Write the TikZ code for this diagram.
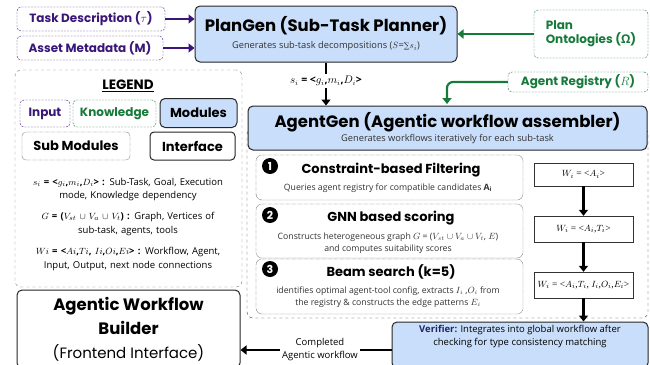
\documentclass[tikz,border=0pt]{standalone}
\usepackage{fontspec}
\setmainfont{Open Sans}
\newfontfamily\headfont{Poppins}
\newfontfamily\wffont{Liberation Serif}
\newfontfamily\greekfont{Open Sans}
\newfontfamily\symfont{DejaVu Serif}
\usetikzlibrary{arrows.meta,positioning,calc}
\definecolor{inpurple}{RGB}{58,22,120}
\definecolor{kngreen}{RGB}{22,122,58}
\definecolor{modblue}{RGB}{201,222,250}
\definecolor{verinavy}{RGB}{28,40,100}
\definecolor{legendgray}{RGB}{120,120,120}
\definecolor{subgray}{RGB}{50,50,50}

\begin{document}
\begin{tikzpicture}[x=1pt,y=-1pt,
  every node/.style={inner sep=2pt},
  inbox/.style={draw=inpurple,dash pattern=on 2pt off 1.2pt,rounded corners=4pt,text=inpurple,
    font=\headfont\bfseries\fontsize{12}{14}\selectfont},
  knbox/.style={draw=kngreen,dash pattern=on 2pt off 1.2pt,rounded corners=4pt,text=kngreen,
    font=\headfont\bfseries\fontsize{12}{14}\selectfont},
  modbox/.style={draw=black!85,fill=modblue,rounded corners=5pt,line width=1pt,align=center},
  subbox/.style={draw=black!70,dash pattern=on 0.6pt off 0.6pt,rounded corners=6pt},
  ifbox/.style={draw=black!85,fill=white,rounded corners=5pt,line width=1pt,align=center},
  wfbox/.style={draw=black!80,fill=white,minimum width=99,font=\wffont\fontsize{9.5}{11}\selectfont},
  numdot/.style={circle,fill=black,text=white,minimum size=16,inner sep=0pt,
    font=\headfont\bfseries\fontsize{11}{11}\selectfont},
  steptitle/.style={font=\headfont\bfseries\fontsize{13}{15}\selectfont},
  stepdesc/.style={align=center,text=subgray,font=\fontsize{8.7}{12}\selectfont},
  legtext/.style={align=center,text width=222,font=\fontsize{9.5}{13.5}\selectfont},
  arr/.style={-{Triangle[length=6pt,width=9pt]},line width=2.2pt},
  inarr/.style={arr,inpurple},
  knarr/.style={arr,kngreen}
]
  \useasboundingbox (0,0) rectangle (650,364);

  % Inputs and knowledge
  \node[inbox,minimum width=148,minimum height=24] (task) at (91,19) {Task Description ($\tau$)};
  \node[inbox,minimum width=146,minimum height=24] (meta) at (90,48) {Asset Metadata (M)};
  \node[knbox,minimum width=114,minimum height=48,align=left] (onto) at (591,34)
    {Plan\\Ontologies ({\greekfont\bfseries Ω})};
  \node[knbox,minimum width=140,minimum height=20] (reg) at (578,82) {Agent Registry ($R$)};

  % PlanGen
  \node[modbox,minimum width=262,minimum height=56] (plangen) at (326,34)
    {{\headfont\bfseries\fontsize{16.5}{20}\selectfont PlanGen (Sub-Task Planner)}\\[5pt]
     {\color{subgray}\fontsize{9.3}{11}\selectfont Generates sub-task decompositions ($S$={\symfont\fontsize{8}{10}\selectfont∑}$s_i$)}};
  \draw[inarr] (task.east) -- (task.east -| plangen.west);
  \draw[inarr] (meta.east) -- (meta.east -| plangen.west);
  \draw[knarr] (onto.west) -- (onto.west -| plangen.east);

  \node[font=\fontsize{10.5}{12}\selectfont] (si) at (326,81)
    {$s_i$ \textbf{= <}$g_i$\textbf{,}$m_i$\textbf{,}$D_i$\textbf{>}};

  % AgentGen area
  \node[draw=black!80,dashed,rounded corners=6pt,minimum width=401,minimum height=190] (area) at (447.5,223) {};
  \node[modbox,minimum width=399,minimum height=44] (agentgen) at (447.5,128)
    {{\headfont\bfseries\fontsize{16.5}{20}\selectfont AgentGen (Agentic workflow assembler)}\\[2pt]
     {\color{subgray}\fontsize{9.3}{11}\selectfont Generates workflows iteratively for each sub-task}};
  \draw[line width=2.2pt] (plangen.south -| si) -- (si.north);
  \draw[arr] (si.south) -- (si.south |- agentgen.north);
  \draw[knarr,rounded corners=6pt] (reg.west) -| (447,104);

  % Sub-modules
  \node[subbox,minimum width=267,minimum height=45] (filter) at (389.5,177.5) {};
  \node[subbox,minimum width=267,minimum height=54] (gnn) at (389.5,231) {};
  \node[subbox,minimum width=267,minimum height=55] (beam) at (389.5,286.5) {};

  \node[numdot] (n1) at (270,166) {1};
  \node[steptitle] (t1) at (391,170) {Constraint-based Filtering};
  \node[stepdesc] (d1) at (388,188) {Queries agent registry for compatible candidates \textbf{A}$_{\mathbf{i}}$};

  \node[numdot] (n2) at (270,215) {2};
  \node[steptitle] (t2) at (391,218) {GNN based scoring};
  \node[stepdesc] (d2) at (388,243)
    {Constructs heterogeneous graph $G$ = ($V_{st}\cup V_a\cup V_t$, $E$)\\and computes suitability scores};

  \node[numdot] (n3) at (270,269) {3};
  \node[steptitle] (t3) at (391,272) {Beam search (k=5)};
  \node[stepdesc] (d3) at (388,297)
    {identifies optimal agent-tool config, extracts $I_i$ ,$O_i$ from\\the registry \& constructs the edge patterns $E_i$};

  % Workflow states
  \node[wfbox,minimum height=23] (w1) at (583.5,174.5) {$W_i$ = <$A_i$>};
  \node[wfbox,minimum height=26] (w2) at (583.5,229) {$W_i$ = <$A_i$,$T_i$>};
  \node[wfbox,minimum height=26] (w3) at (583.5,285) {$W_i$ = <$A_i$,$T_i$, $I_i$,$O_i$,$E_i$>};
  \draw[arr] (w1) -- (w2);
  \draw[arr] (w2) -- (w3);

  % Verifier and builder
  \node[modbox,minimum width=256,minimum height=46,font=\fontsize{9.5}{13}\selectfont] (verif) at (520,345)
    {\textcolor{verinavy}{\textbf{Verifier:}} Integrates into global workflow after\\checking for type consistency matching\\[6pt]};
  \draw[arr] (w3) -- (verif.north -| w3);

  \node[ifbox,minimum width=223,minimum height=78,font=\headfont\bfseries\fontsize{16.5}{24}\selectfont] (builder) at (128.5,329)
    {Agentic Workflow\\Builder\\ \mdseries\fontsize{15}{20}\selectfont (Frontend Interface)};

  \node[align=center,font=\fontsize{9.5}{13}\selectfont] (done) at (320,350) {Completed\\Agentic workflow};
  \draw[line width=2pt] (verif.west |- done) -- (done.east);
  \draw[arr] (done.west) -- (builder.east |- done);

  % Legend
  \node[draw=legendgray,dashed,rounded corners=6pt,minimum width=227,minimum height=217] (legend) at (128.5,178.5) {};
  \node[font=\headfont\bfseries\fontsize{13.5}{16}\selectfont] (legtitle) at (128,86) {\underline{LEGEND}};
  \node[inbox,minimum width=50,minimum height=27] (lin) at (45,113.5) {Input};
  \node[knbox,minimum width=83,minimum height=27] (lkn) at (114.5,113.5) {Knowledge};
  \node[modbox,minimum width=77,minimum height=29,font=\headfont\bfseries\fontsize{13}{14}\selectfont] (lmod) at (198.5,113) {Modules};
  \node[subbox,rounded corners=4pt,minimum width=108,minimum height=28,font=\headfont\bfseries\fontsize{13}{14}\selectfont] (lsub) at (76,146) {Sub Modules};
  \node[ifbox,rounded corners=4pt,minimum width=85,minimum height=28,font=\headfont\bfseries\fontsize{13}{14}\selectfont] (lif) at (192.5,146) {Interface};

  \node[legtext] (l1) at (128,189.5)
    {$s_i$ \textbf{= <}$g_i$\textbf{,}$m_i$\textbf{,}$D_i$\textbf{> :} Sub-Task, Goal, Execution\\mode, Knowledge dependency};
  \node[legtext] (l2) at (128,224)
    {$G$ \textbf{= (}$V_{st}$ $\cup$ $V_a$ $\cup$ $V_t$\textbf{) :} Graph, Vertices of\\sub-task, agents, tools};
  \node[legtext] (l3) at (128,259)
    {$Wi$ \textbf{= <}$Ai$\textbf{,}$Ti$\textbf{,} $Ii$\textbf{,}$Oi$\textbf{,}$Ei$\textbf{> :} Workflow, Agent,\\Input, Output, next node connections};
\end{tikzpicture}
\end{document}
